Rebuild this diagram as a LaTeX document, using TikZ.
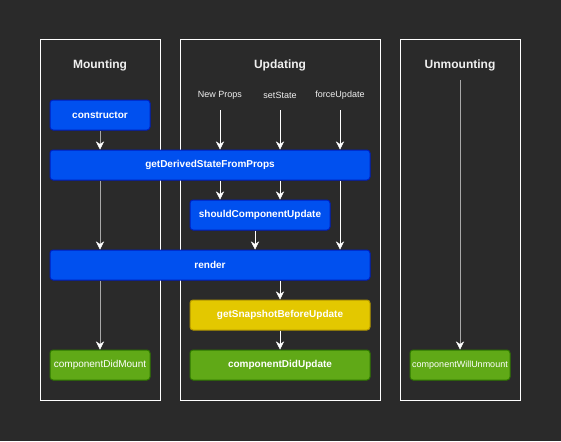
\documentclass[tikz,border=0pt]{standalone}
\usepackage{fontspec}
\setmainfont{Liberation Sans}
\usetikzlibrary{arrows.meta}
\definecolor{bgc}{HTML}{2A2A2A}
\definecolor{bluef}{HTML}{0050EF}
\definecolor{blued}{HTML}{001DBC}
\definecolor{yelf}{HTML}{E3C800}
\definecolor{yeld}{HTML}{B09500}
\definecolor{grnf}{HTML}{60A917}
\definecolor{grnd}{HTML}{2D7600}
\definecolor{arrg}{HTML}{A8A8A8}
\definecolor{txtc}{HTML}{F0F0F0}
\tikzset{
  panel/.style={draw=white, line width=1pt},
  boxbase/.style={rounded corners=3pt, line width=1pt, text=white, inner sep=0pt, minimum height=30pt, font=\fontsize{10}{12}\selectfont\bfseries},
  bluebox/.style={boxbase, fill=bluef, draw=blued},
  yelbox/.style={boxbase, fill=yelf, draw=yeld},
  grnbox/.style={boxbase, fill=grnf, draw=grnd},
  ttl/.style={text=txtc, font=\fontsize{12}{14}\selectfont\bfseries},
  lbl/.style={text=txtc, font=\fontsize{9}{11}\selectfont},
  tip/.style={-{Stealth[length=8pt,width=8pt,inset=2.5pt,color=white,fill=white,line width=0.4pt]}},
  warr/.style={tip, draw=white, line width=1pt},
  garr/.style={tip, draw=arrg, line width=1pt},
}
\begin{document}
\begin{tikzpicture}[x=1pt,y=-1pt]
\fill[bgc] (0,0) rectangle (561,441);
\useasboundingbox (0,0) rectangle (561,441);
% panels
\draw[panel] (40,40) rectangle (160,400);
\draw[panel] (180,40) rectangle (380,400);
\draw[panel] (400,40) rectangle (520,400);
% titles
\node[ttl] (tm) at (100,65) {Mounting};
\node[ttl] (tu) at (280,65) {Updating};
\node[ttl] (tun) at (460,65) {Unmounting};
% labels
\node[lbl] (np) at (220,95) {New Props};
\node[lbl] (ss) at (280,95) {setState};
\node[lbl] (fu) at (340,95) {forceUpdate};
% boxes
\node[bluebox, minimum width=100pt] (cons) at (100,115) {constructor};
\node[bluebox, minimum width=320pt] (gd) at (210,165) {getDerivedStateFromProps};
\node[bluebox, minimum width=140pt] (scu) at (260,215) {shouldComponentUpdate};
\node[bluebox, minimum width=320pt] (rend) at (210,265) {render};
\node[yelbox, minimum width=180pt] (gsb) at (280,315) {getSnapshotBeforeUpdate};
\node[grnbox, minimum width=180pt] (cdu) at (280,365) {componentDidUpdate};
\node[grnbox, minimum width=100pt, font=\fontsize{10}{12}\selectfont] (cdm) at (100,365) {componentDidMount};
\node[grnbox, minimum width=100pt, font=\fontsize{9}{11}\selectfont] (cwu) at (460,365) {componentWillUnmount};
\coordinate (us) at (460,80);
% mounting arrows
\draw[garr] (cons.south) -- (cons.south |- gd.north);
\draw[garr] (cons.south |- gd.south) -- (cons.south |- rend.north);
\draw[garr] (cons.south |- rend.south) -- (cdm.north);
% updating arrows
\draw[warr] ([yshift=-15pt]np.center) -- (np.center |- gd.north);
\draw[warr] ([yshift=-15pt]ss.center) -- (ss.center |- gd.north);
\draw[warr] ([yshift=-15pt]fu.center) -- (fu.center |- gd.north);
\draw[warr] (np.center |- gd.south) -- (np.center |- scu.north);
\draw[warr] (ss.center |- gd.south) -- (ss.center |- scu.north);
\draw[warr] (fu.center |- gd.south) -- (fu.center |- rend.north);
\draw[warr] ([xshift=-5pt]scu.south) -- ([xshift=-5pt]scu.south |- rend.north);
\draw[warr] (gsb.north |- rend.south) -- (gsb.north);
\draw[warr] (gsb.south) -- (cdu.north);
% unmounting arrow
\draw[garr] (us) -- (cwu.north);
\end{tikzpicture}
\end{document}
